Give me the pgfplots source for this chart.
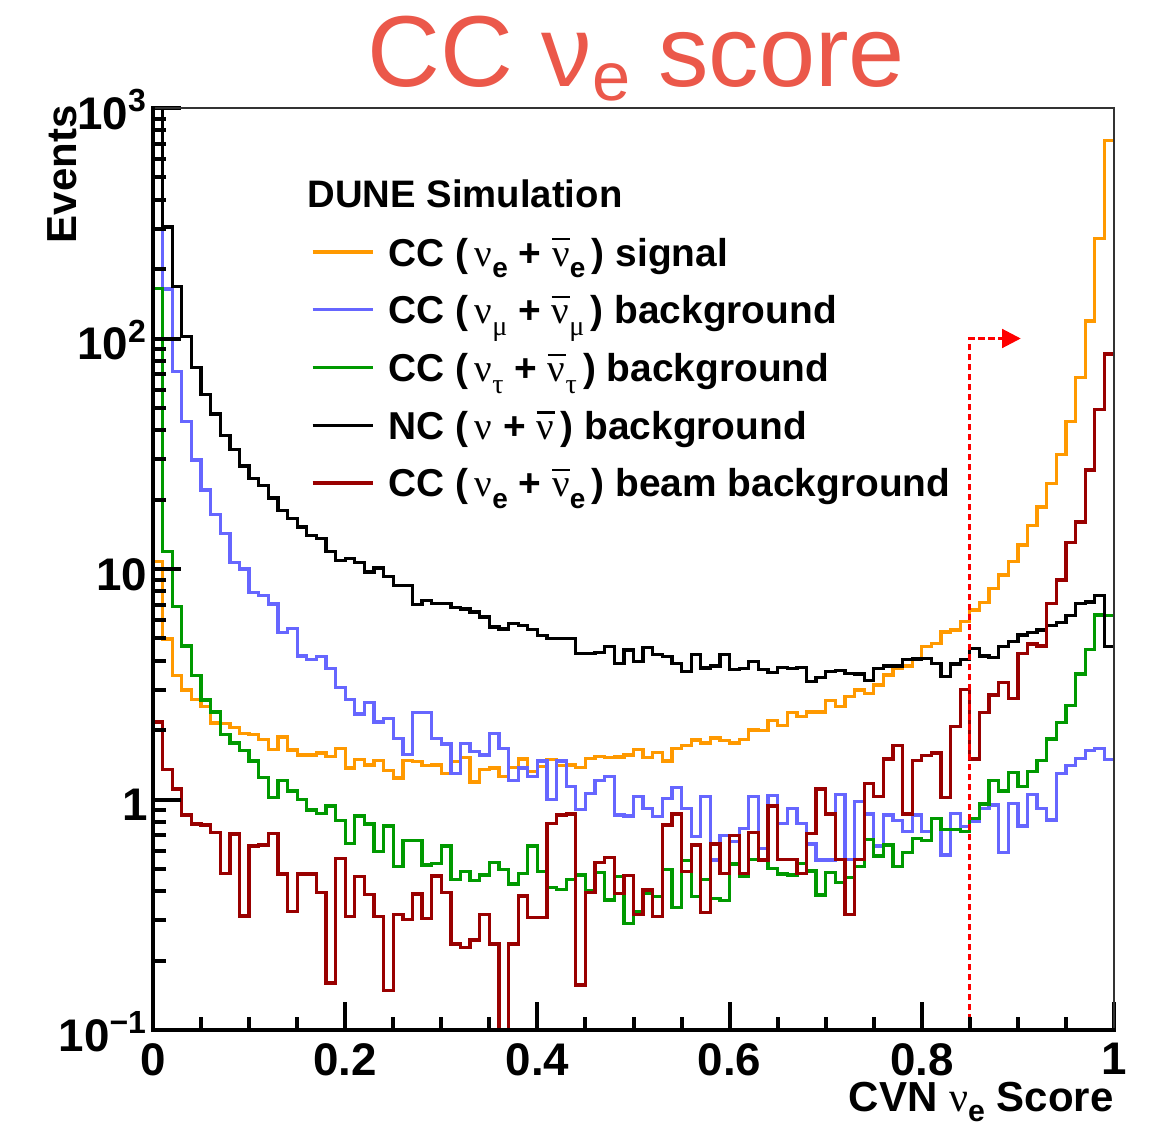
\documentclass[border=0pt]{standalone}
\usepackage{fontspec}
\setmainfont{Liberation Sans}
\newfontfamily\greek{Liberation Serif}
\usepackage{graphicx}
\usepackage{pgfplots}
\usepackage{pgfplotstable}
\pgfplotsset{compat=1.18}
\usetikzlibrary{arrows.meta}

\definecolor{sigorange}{RGB}{255,153,0}
\definecolor{numublue}{RGB}{102,102,255}
\definecolor{nutaugreen}{RGB}{0,153,0}
\definecolor{beamred}{RGB}{153,0,0}
\definecolor{cutred}{RGB}{255,0,0}
\definecolor{titlered}{RGB}{235,88,74}

% Greek letters in a serif face, subscripts, and the anti-neutrino bar
\newcommand{\gsym}[1]{{\normalfont\greek #1}}
\newcommand{\sub}[1]{\raisebox{-0.3em}{\scalebox{0.72}{#1}}}
\newcommand{\xsub}[1]{\raisebox{-0.24em}{\scalebox{0.72}{#1}}}
\newcommand{\tsub}[1]{\raisebox{-0.13em}{\scalebox{0.68}{#1}}}
\newcommand{\nubar}{\makebox[0pt][l]{\rule[0.66em]{0.46em}{0.055em}}\gsym{ν}}

% CVN nu_e score, 100 bins from 0 to 1 (left bin edges; last row closes the final bin)
\pgfplotstableread{
x     sig    numu   nutau  nc     beam
0.00  10.8   300    165    2000   2.17
0.01  4.97   164    11.9   305    1.35
0.02  3.44   71.8   6.87   168    1.11
0.03  2.99   43.5   4.63   102    0.857
0.04  2.72   29.7   3.44   75     0.783
0.05  2.53   22.0   2.70   57     0.775
0.06  2.15   17.2   2.40   47     0.718
0.07  2.13   14.3   1.92   38     0.478
0.08  2.06   10.7   1.76   33     0.709
0.09  1.94   10.0   1.63   28     0.312
0.10  1.92   7.89   1.47   24.7   0.628
0.11  1.82   7.70   1.25   23.1   0.635
0.12  1.65   7.05   1.02   20.3   0.713
0.13  1.87   5.31   1.21   17.9   0.475
0.14  1.64   5.53   1.09   16.6   0.326
0.15  1.56   4.19   1.00   15.2   0.475
0.16  1.56   4.06   0.90   14.0   0.475
0.17  1.59   4.17   0.87   13.6   0.395
0.18  1.54   3.71   0.937  11.9   0.160
0.19  1.67   3.07   0.81   10.9   0.553
0.20  1.37   2.72   0.645  11.1   0.310
0.21  1.49   2.35   0.848  10.7   0.463
0.22  1.41   2.63   0.783  9.7    0.388
0.23  1.48   2.17   0.594  10.1   0.311
0.24  1.34   2.25   0.767  9.3    0.148
0.25  1.24   1.84   0.511  8.5    0.316
0.26  1.48   1.57   0.663  8.5    0.301
0.27  1.46   2.38   0.663  7.0    0.389
0.28  1.40   2.38   0.520  7.3    0.305
0.29  1.41   1.84   0.529  7.1    0.466
0.30  1.30   1.74   0.628  7.1    0.395
0.31  1.46   1.30   0.450  6.8    0.236
0.32  1.52   1.75   0.486  6.7    0.228
0.33  1.19   1.61   0.444  6.5    0.246
0.34  1.35   1.56   0.470  6.2    0.316
0.35  1.37   1.94   0.532  5.6    0.236
0.36  1.26   1.67   0.498  5.5    0.01
0.37  1.38   1.21   0.430  5.8    0.236
0.38  1.50   1.37   0.478  5.7    0.381
0.39  1.32   1.26   0.628  5.45   0.308
0.40  1.39   1.47   0.486  5.15   0.308
0.41  1.49   1.00   0.416  5.0    0.788
0.42  1.40   1.47   0.408  5.0    0.857
0.43  1.41   1.14   0.450  5.0    0.865
0.44  1.38   0.907  0.470  4.3    0.157
0.45  1.51   1.06   0.403  4.3    0.395
0.46  1.54   1.21   0.482  4.35   0.532
0.47  1.52   1.26   0.367  4.6    0.562
0.48  1.53   0.857  0.465  3.88   0.392
0.49  1.56   0.848  0.289  4.45   0.468
0.50  1.65   1.03   0.326  3.98   0.316
0.51  1.52   0.916  0.390  4.55   0.405
0.52  1.60   0.842  0.380  4.25   0.310
0.53  1.47   1.01   0.498  4.17   0.775
0.54  1.67   1.13   0.340  3.9    0.865
0.55  1.72   0.916  0.542  3.58   0.486
0.56  1.81   0.690  0.379  4.25   0.635
0.57  1.76   1.03   0.450  3.72   0.323
0.58  1.85   0.547  0.373  3.8    0.641
0.59  1.80   0.700  0.364  4.27   0.478
0.60  1.76   0.656  0.525  3.67   0.700
0.61  1.82   0.750  0.466  3.71   0.478
0.62  2.00   1.03   0.550  3.96   0.718
0.63  1.99   0.614  0.542  3.67   0.547
0.64  2.20   1.04   0.503  3.55   0.937
0.65  2.10   0.788  0.475  3.74   0.550
0.66  2.39   0.916  0.470  3.71   0.550
0.67  2.29   0.788  0.529  3.75   0.478
0.68  2.40   0.641  0.490  3.24   0.713
0.69  2.40   0.547  0.385  3.39   1.11
0.70  2.68   0.547  0.481  3.58   0.865
0.71  2.53   1.05   0.435  3.64   0.550
0.72  2.79   0.550  0.459  3.52   0.318
0.73  2.99   0.978  0.511  3.50   0.550
0.74  2.89   0.865  0.672  3.28   1.17
0.75  3.14   0.628  0.569  3.69   1.03
0.76  3.47   0.857  0.635  3.80   1.50
0.77  3.71   0.809  0.511  3.80   1.72
0.78  3.80   0.725  0.588  4.06   0.865
0.79  4.09   0.857  0.678  4.07   1.48
0.80  4.60   0.725  0.663  4.09   1.55
0.81  4.76   0.829  0.829  3.90   1.59
0.82  5.33   0.574  0.742  3.41   1.02
0.83  5.43   0.871  0.742  3.87   2.08
0.84  5.91   0.762  0.725  4.06   3.01
0.85  6.64   0.800  0.829  4.53   1.50
0.86  7.15   0.916  0.956  4.19   2.38
0.87  8.24   0.946  1.21   4.14   2.84
0.88  9.42   0.588  1.09   4.60   3.21
0.89  10.75  0.963  1.31   4.84   2.75
0.90  12.7   0.767  1.14   5.17   4.30
0.91  15.5   1.05   1.32   5.29   4.73
0.92  18.6   0.916  1.48   5.43   4.63
0.93  23.5   0.815  1.83   5.67   7.10
0.94  31.4   1.30   2.16   5.85   8.95
0.95  43.5   1.40   2.55   6.30   13.0
0.96  67.9   1.51   3.50   7.10   16.0
0.97  119    1.63   4.48   7.20   26.9
0.98  272    1.67   6.31   7.70   49.3
0.99  721    1.49   6.27   4.60   85.7
1.00  721    1.49   6.27   4.60   85.7
}\cvnhist

\begin{document}
\begin{tikzpicture}
\path[use as bounding box] (-53.55pt,-34.3pt) rectangle (353.5pt,360.5pt);
\begin{axis}[
  scale only axis,
  width=336.35pt, height=322.7pt,
  xmin=0, xmax=1,
  ymode=log, ymin=0.1, ymax=1000,
  axis on top,
  xtick={0,0.2,0.4,0.6,0.8,1},
  xticklabels={0,0.2,0.4,0.6,0.8,1},
  minor x tick num=3,
  ytick={0.1,1,10,100,1000},
  yticklabels={10\textsuperscript{−1},1,10,10\textsuperscript{2},10\textsuperscript{3}},
  minor ytick={0.2,0.3,0.4,0.5,0.6,0.7,0.8,0.9,2,3,4,5,6,7,8,9,20,30,40,50,60,70,80,90,200,300,400,500,600,700,800,900},
  tick pos=left, tick align=inside,
  major tick length=9.8pt, minor tick length=4.6pt,
  tick style={line width=1.4pt, black},
  axis line style={line width=0.6pt, black!80},
  ticklabel style={font=\fontsize{16}{18}\selectfont\bfseries},
  xticklabel style={inner sep=0pt, yshift=-4.5pt},
  yticklabel style={anchor=base east, inner sep=0pt, xshift=-1.75pt, yshift=-7.5pt},
  xlabel={CVN \gsym{ν}\xsub{e} Score},
  xlabel style={at={(axis description cs:1,0)}, anchor=base east, inner sep=0pt,
    yshift=-28.6pt, font=\fontsize{14.7}{17}\selectfont\bfseries},
  ylabel={Events},
  ylabel style={at={(axis description cs:-0.0801,1.0033)}, anchor=base east,
    inner sep=0pt, font=\fontsize{14.7}{17}\selectfont\bfseries},
  title={CC ν\tsub{e} score},
  every axis title/.style={at={(axis description cs:0.503,1)}, anchor=base,
    inner sep=0pt, yshift=7.35pt, font=\fontsize{35.3}{40}\selectfont, text=titlered},
  every axis plot/.append style={line width=1.15pt, line join=miter},
  legend cell align=left,
  legend style={at={(0.1644,0.8658)}, anchor=north west, draw=none, fill=none,
    inner sep=0pt, outer sep=0pt, row sep=6pt,
    font=\fontsize{13.6}{15}\selectfont\bfseries,
    nodes={inner sep=0pt, text height=12pt, text depth=2.2pt}},
  legend image code/.code={\draw[#1] (0pt,0pt) -- (21pt,0pt); \path (26pt,0pt);},
  after end axis/.code={
    \draw[line width=1.5pt, line cap=rect] (rel axis cs:0,1) -- (rel axis cs:0,0) -- (rel axis cs:1,0);
  },
]
\addplot[sigorange, const plot mark left] table[x=x, y=sig] {\cvnhist};
\addlegendentry{CC (\,\gsym{ν}\sub{e} + \nubar\sub{e}\,) signal}
\addplot[numublue, const plot mark left] table[x=x, y=numu] {\cvnhist};
\addlegendentry{CC (\,\gsym{ν}\sub{\gsym{μ}} + \nubar\sub{\gsym{μ}}\,) background}
\addplot[nutaugreen, const plot mark left] table[x=x, y=nutau] {\cvnhist};
\addlegendentry{CC (\,\gsym{ν}\sub{\gsym{τ}} + \nubar\sub{\gsym{τ}}\,) background}
\addplot[black, const plot mark left] table[x=x, y=nc] {\cvnhist};
\addlegendentry{NC (\,\gsym{ν} + \nubar\,) background}
\addplot[beamred, const plot mark left] table[x=x, y=beam] {\cvnhist};
\addlegendentry{CC (\,\gsym{ν}\sub{e} + \nubar\sub{e}\,) beam background}

% selection cut at 0.85
\addplot[forget plot, cutred, line width=1pt, dash pattern=on 2.2pt off 1.3pt,
  -{Triangle[length=6.5pt, width=6.5pt]}]
  coordinates {(0.85,0.1) (0.85,100) (0.903,100)};

\node[anchor=base west, inner sep=0pt, font=\fontsize{13.4}{15}\selectfont\bfseries]
  at (axis description cs:0.1603,0.8926) {DUNE Simulation};
\end{axis}
\end{tikzpicture}
\end{document}
